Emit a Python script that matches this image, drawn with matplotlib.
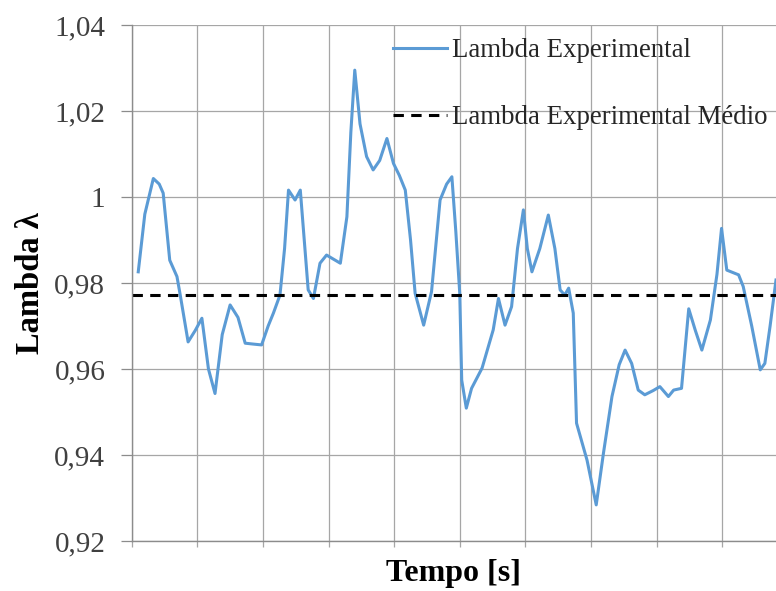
import numpy as np
import matplotlib
matplotlib.use("Agg")
import matplotlib.pyplot as plt
from matplotlib.ticker import FuncFormatter, MultipleLocator

# -------------------------------------------------------------------
# Data
# -------------------------------------------------------------------
tempo = [0.10, 0.20, 0.33, 0.42, 0.48, 0.58, 0.69, 0.74, 0.86, 0.97, 1.07,
         1.17, 1.27, 1.38, 1.50, 1.62, 1.73, 1.85, 1.98, 2.08, 2.16, 2.26,
         2.33, 2.39, 2.49, 2.57, 2.63, 2.69, 2.77, 2.87, 2.97, 3.08, 3.18,
         3.28, 3.34, 3.40, 3.48, 3.58, 3.68, 3.78, 3.89, 3.99, 4.08, 4.17,
         4.25, 4.32, 4.45, 4.57, 4.70, 4.80, 4.88, 4.94, 5.00, 5.03, 5.10,
         5.18, 5.34, 5.51, 5.59, 5.69, 5.79, 5.88, 5.97, 6.03, 6.10, 6.22,
         6.35, 6.45, 6.53, 6.60, 6.66, 6.73, 6.78, 6.94, 7.08, 7.19, 7.32,
         7.43, 7.52, 7.62, 7.72, 7.82, 7.95, 8.05, 8.18, 8.26, 8.38, 8.49,
         8.59, 8.69, 8.82, 8.92, 8.99, 9.07, 9.25, 9.32, 9.45, 9.58, 9.65,
         9.73, 9.82]
lambda_exp = [0.9826, 0.9960, 1.0043, 1.0030, 1.0009, 0.9853, 0.9815, 0.9772,
              0.9663, 0.9690, 0.9718, 0.9600, 0.9543, 0.9680, 0.9749, 0.9720,
              0.9660, 0.9658, 0.9656, 0.9700, 0.9730, 0.9772, 0.9880, 1.0016,
              0.9993, 1.0016, 0.9900, 0.9784, 0.9764, 0.9846, 0.9865, 0.9855,
              0.9846, 0.9954, 1.0150, 1.0295, 1.0170, 1.0094, 1.0063, 1.0085,
              1.0136, 1.0078, 1.0050, 1.0016, 0.9900, 0.9776, 0.9702, 0.9780,
              0.9993, 1.0030, 1.0047, 0.9920, 0.9776, 0.9574, 0.9509, 0.9555,
              0.9602, 0.9691, 0.9764, 0.9702, 0.9745, 0.9880, 0.9970, 0.9880,
              0.9826, 0.9880, 0.9958, 0.9880, 0.9784, 0.9772, 0.9788, 0.9730,
              0.9474, 0.9388, 0.9284, 0.9404, 0.9536, 0.9610, 0.9644, 0.9613,
              0.9551, 0.9540, 0.9550, 0.9559, 0.9536, 0.9551, 0.9555, 0.9740,
              0.9690, 0.9644, 0.9714, 0.9820, 0.9927, 0.9830, 0.9819, 0.9792,
              0.9700, 0.9598, 0.9613, 0.9700, 0.9807]
lambda_medio = 0.9772

# -------------------------------------------------------------------
# Plot
# -------------------------------------------------------------------
plt.rcParams["font.family"] = ["Liberation Serif", "DejaVu Serif"]

fig = plt.figure(figsize=(7.76, 5.91), dpi=100)
ax = fig.add_axes([0.1697, 0.0846, 0.8303, 0.8731])

ax.plot(tempo, lambda_exp, color="#5B9BD5", lw=2.2,
        solid_joinstyle="round", label="Lambda Experimental")
ax.axhline(lambda_medio, color="black", lw=2.2, dashes=(3.4, 2.4),
           label="Lambda Experimental Médio")

ax.set_xlim(0, 9.82)
ax.set_ylim(0.92, 1.04)
ax.xaxis.set_major_locator(MultipleLocator(1))
ax.yaxis.set_major_locator(MultipleLocator(0.02))
ax.yaxis.set_major_formatter(
    FuncFormatter(lambda v, p: "{:g}".format(round(v, 2)).replace(".", ",")))
ax.set_xticklabels([])

ax.grid(True, color="#a6a6a6", lw=0.9)
ax.set_axisbelow(True)
for s in ["top", "right"]:
    ax.spines[s].set_visible(False)
for s in ["left", "bottom"]:
    ax.spines[s].set_color("#8c8c8c")
    ax.spines[s].set_linewidth(1.0)

ax.tick_params(axis="y", length=8, width=0.9, color="#8c8c8c",
               labelsize=21, labelcolor="#404040", pad=11)
ax.tick_params(axis="x", length=4, width=0.9, color="#a6a6a6")

ax.set_xlabel("Tempo [s]", fontsize=23, fontweight="bold", labelpad=5.5)
ax.set_ylabel("Lambda λ", fontsize=23.5, fontweight="bold", labelpad=6)

ax.legend(loc="upper left", bbox_to_anchor=(0.4055, 0.974), frameon=False,
          fontsize=19.4, handlelength=2.0, handletextpad=0.2,
          labelspacing=1.55, borderpad=0, borderaxespad=0,
          labelcolor="#262626")

fig.savefig("out.png", dpi=100)
